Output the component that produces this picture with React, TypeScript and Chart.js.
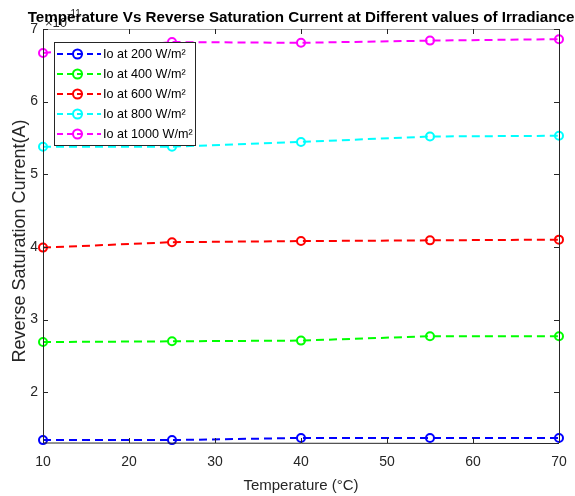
import React, { useEffect, useRef } from "react";
import { Chart, registerables } from "chart.js";

Chart.register(...registerables);

const temperatures = [10, 25, 40, 55, 70];
const io200 = [1.34, 1.34, 1.37, 1.37, 1.37];
const io400 = [2.69, 2.7, 2.71, 2.77, 2.77];
const io600 = [3.99, 4.065, 4.08, 4.09, 4.1];
const io800 = [5.38, 5.38, 5.445, 5.52, 5.53];
const io1000 = [6.67, 6.82, 6.81, 6.84, 6.86];

const seriesValues = [io200, io400, io600, io800, io1000];
const seriesLabels = [
  "Io at 200 W/m²",
  "Io at 400 W/m²",
  "Io at 600 W/m²",
  "Io at 800 W/m²",
  "Io at 1000 W/m²",
];
const seriesColors = ["#0000ff", "#00ff00", "#ff0000", "#00ffff", "#ff00ff"];
const xTicks = [10, 20, 30, 40, 50, 60, 70];
const yTicks = [2, 3, 4, 5, 6, 7];

const titleText =
  "Temperature Vs Reverse Saturation Current at Different values of Irradiance";
const xTitle = "Temperature (°C)";
const yTitle = "Reverse Saturation Current(A)";

const FONT = "'Liberation Sans', Arial, Helvetica, sans-serif";
const AXIS_COLOR = "#262626";

const framePlugin = {
  id: "frame",
  beforeDraw(chart: any) {
    const { ctx, width, height, chartArea } = chart;
    ctx.save();
    ctx.fillStyle = "#ffffff";
    ctx.fillRect(0, 0, width, height);
    // exponent label
    ctx.fillStyle = AXIS_COLOR;
    ctx.textBaseline = "alphabetic";
    ctx.textAlign = "left";
    ctx.font = `13px ${FONT}`;
    ctx.fillText("×10", chartArea.left + 2, chartArea.top - 2);
    const w = ctx.measureText("×10").width;
    ctx.font = `10px ${FONT}`;
    ctx.fillText("-11", chartArea.left + 2 + w, chartArea.top - 12);
    // title (drawn over the exponent, as in the reference)
    ctx.fillStyle = "#000000";
    ctx.font = `bold 15.2px ${FONT}`;
    ctx.textAlign = "center";
    ctx.fillText(titleText, 301, 21.5);
    // y axis title
    ctx.fillStyle = AXIS_COLOR;
    ctx.font = `18px ${FONT}`;
    ctx.translate(25, 241);
    ctx.rotate(-Math.PI / 2);
    ctx.textAlign = "center";
    ctx.textBaseline = "alphabetic";
    ctx.fillText(yTitle, 0, 0);
    ctx.restore();
  },
  afterDatasetsDraw(chart: any) {
    const { ctx, chartArea } = chart;
    const { left, right, top, bottom } = chartArea;
    const xs = chart.scales.x;
    const ys = chart.scales.y;
    ctx.save();
    ctx.lineWidth = 1;
    ctx.setLineDash([]);
    // frame
    ctx.strokeStyle = "#a0a0a0";
    ctx.beginPath();
    ctx.moveTo(left, Math.round(top) + 0.5);
    ctx.lineTo(right, Math.round(top) + 0.5);
    ctx.stroke();
    ctx.strokeStyle = AXIS_COLOR;
    ctx.beginPath();
    ctx.moveTo(Math.round(left) + 0.5, top);
    ctx.lineTo(Math.round(left) + 0.5, bottom);
    ctx.lineTo(right, Math.round(bottom) + 0.5);
    ctx.moveTo(Math.round(right) + 0.5, top);
    ctx.lineTo(Math.round(right) + 0.5, bottom);
    ctx.stroke();
    // inward ticks
    const tl = 5;
    ctx.beginPath();
    xTicks.forEach((v) => {
      const px = Math.round(xs.getPixelForValue(v)) + 0.5;
      ctx.moveTo(px, bottom);
      ctx.lineTo(px, bottom - tl);
      ctx.moveTo(px, top);
      ctx.lineTo(px, top + tl);
    });
    yTicks.forEach((v) => {
      const py = Math.round(ys.getPixelForValue(v)) + 0.5;
      ctx.moveTo(left, py);
      ctx.lineTo(left + tl, py);
      ctx.moveTo(right, py);
      ctx.lineTo(right - tl, py);
    });
    ctx.stroke();

    // legend
    const bx = 54.5;
    const by = 42.5;
    const bw = 141;
    const bh = 103;
    ctx.fillStyle = "#ffffff";
    ctx.fillRect(bx, by, bw, bh);
    ctx.strokeStyle = AXIS_COLOR;
    ctx.strokeRect(bx, by, bw, bh);
    chart.data.datasets.forEach((ds: any, i: number) => {
      const y = 54 + i * 20;
      ctx.strokeStyle = ds.borderColor;
      ctx.lineWidth = 2;
      ctx.setLineDash([6, 4]);
      ctx.beginPath();
      ctx.moveTo(57, y);
      ctx.lineTo(101, y);
      ctx.stroke();
      ctx.setLineDash([]);
      ctx.beginPath();
      ctx.arc(77.5, y, 4.5, 0, Math.PI * 2);
      ctx.stroke();
      ctx.fillStyle = "#000000";
      ctx.font = `12.6px ${FONT}`;
      ctx.textAlign = "left";
      ctx.textBaseline = "middle";
      ctx.fillText(ds.label, 103, y + 1);
    });
    ctx.restore();
  },
};

export default function App() {
  const canvasRef = useRef<HTMLCanvasElement | null>(null);

  useEffect(() => {
    document.body.style.margin = "0";
    const canvas = canvasRef.current;
    if (!canvas) return;
    const datasets = seriesValues.map((vals, i) => ({
      label: seriesLabels[i],
      data: temperatures.map((t, j) => ({ x: t, y: vals[j] })),
      borderColor: seriesColors[i],
      backgroundColor: "rgba(0,0,0,0)",
      borderWidth: 2,
      borderDash: [8, 5],
      pointStyle: "circle",
      pointRadius: 4,
      pointBorderWidth: 2,
      pointBorderColor: seriesColors[i],
      pointBackgroundColor: "rgba(0,0,0,0)",
      fill: false,
      tension: 0,
      clip: false as any,
    }));
    const chart = new Chart(canvas, {
      type: "line",
      data: { datasets },
      plugins: [framePlugin],
      options: {
        animation: false,
        responsive: false,
        devicePixelRatio: 1,
        layout: { padding: { left: 0, right: 16, top: 29, bottom: 0 } },
        plugins: {
          legend: { display: false },
          tooltip: { enabled: false },
          title: { display: false },
        },
        scales: {
          x: {
            type: "linear",
            min: 10,
            max: 70,
            afterBuildTicks: (scale: any) => {
              scale.ticks = xTicks.map((v) => ({ value: v }));
            },
            afterFit: (scale: any) => {
              scale.height = 53;
              scale.paddingLeft = 0;
              scale.paddingRight = 0;
            },
            grid: { display: false, drawTicks: false },
            border: { display: false },
            ticks: {
              color: AXIS_COLOR,
              font: { family: FONT, size: 14 },
              padding: 11,
              maxRotation: 0,
            },
            title: {
              display: true,
              text: xTitle,
              color: AXIS_COLOR,
              font: { family: FONT, size: 15 },
              padding: { top: 0, bottom: 1 },
            },
          },
          y: {
            type: "linear",
            min: 1.3,
            max: 7,
            afterBuildTicks: (scale: any) => {
              scale.ticks = yTicks.map((v) => ({ value: v }));
            },
            afterFit: (scale: any) => {
              scale.width = 43;
              scale.paddingTop = 0;
              scale.paddingBottom = 0;
            },
            grid: { display: false, drawTicks: false },
            border: { display: false },
            ticks: {
              color: AXIS_COLOR,
              font: { family: FONT, size: 14 },
              padding: 5,
            },
            title: { display: false },
          },
        },
      },
    });
    return () => chart.destroy();
  }, []);

  return (
    <div style={{ position: "absolute", left: 0, top: 0, width: 575, height: 496 }}>
      <canvas ref={canvasRef} width={575} height={496} style={{ width: 575, height: 496 }} />
    </div>
  );
}
